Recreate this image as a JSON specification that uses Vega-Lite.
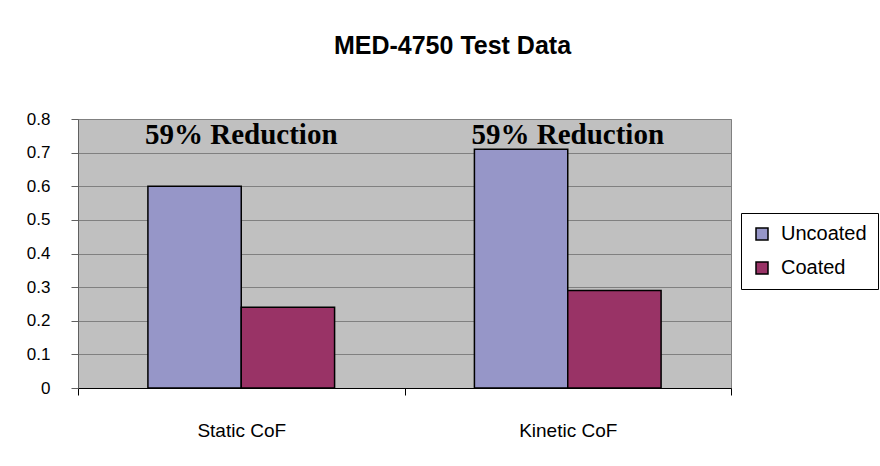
{
  "$schema": "https://vega.github.io/schema/vega-lite/v6.json",
  "autosize": "none",
  "width": 653,
  "height": 269,
  "padding": {"left": 78, "top": 119, "right": 149, "bottom": 78},
  "background": "white",
  "title": {
    "text": "MED-4750 Test Data",
    "font": "Liberation Sans",
    "fontSize": 25,
    "fontWeight": "bold",
    "color": "black",
    "frame": "group",
    "anchor": "middle",
    "dx": 48,
    "offset": 51
  },
  "datasets": {
    "bars": [
      {"cat": "Static CoF", "series": "Uncoated", "value": 0.6},
      {"cat": "Static CoF", "series": "Coated", "value": 0.24},
      {"cat": "Kinetic CoF", "series": "Uncoated", "value": 0.71},
      {"cat": "Kinetic CoF", "series": "Coated", "value": 0.29}
    ],
    "notes": [
      {"cat": "Static CoF", "label": "59% Reduction"},
      {"cat": "Kinetic CoF", "label": "59% Reduction"}
    ]
  },
  "config": {
    "view": {"fill": "#C0C0C0", "stroke": "#808080", "strokeWidth": 1}
  },
  "layer": [
    {
      "data": {"name": "bars"},
      "mark": {"type": "bar", "stroke": "black", "strokeWidth": 1.5},
      "encoding": {
        "x": {
          "field": "cat",
          "type": "nominal",
          "sort": ["Static CoF", "Kinetic CoF"],
          "scale": {"paddingInner": 0, "paddingOuter": 0},
          "axis": {
            "title": null,
            "labelAngle": 0,
            "tickBand": "extent",
            "tickSize": 7,
            "tickColor": "black",
            "domainColor": "black",
            "labelPadding": 26,
            "labelFont": "Liberation Sans",
            "labelFontSize": 19,
            "labelColor": "black",
            "grid": false
          }
        },
        "xOffset": {
          "field": "series",
          "type": "nominal",
          "sort": ["Uncoated", "Coated"],
          "scale": {"paddingInner": 0, "paddingOuter": 0.749}
        },
        "y": {
          "field": "value",
          "type": "quantitative",
          "scale": {"domain": [0, 0.8], "nice": false},
          "axis": {
            "title": null,
            "tickCount": 16,
            "tickMinStep": 0.1,
            "format": "~g",
            "labelOverlap": false,
            "labelFont": "Liberation Sans",
            "labelFontSize": 17,
            "labelColor": "black",
            "tickSize": 7,
            "tickColor": "#606060",
            "domainColor": "#606060",
            "gridColor": "#808080",
            "gridOpacity": 1,
            "labelPadding": 21
          }
        },
        "color": {
          "field": "series",
          "type": "nominal",
          "sort": ["Uncoated", "Coated"],
          "scale": {"domain": ["Uncoated", "Coated"], "range": ["#9696C8", "#993366"]},
          "legend": {
            "title": null,
            "orient": "none",
            "legendX": 663,
            "legendY": 94,
            "padding": 11,
            "rowPadding": 14,
            "strokeColor": "black",
            "fillColor": "white",
            "symbolType": "square",
            "symbolSize": 144,
            "symbolStrokeColor": "black",
            "symbolStrokeWidth": 1.5,
            "symbolOpacity": 1,
            "labelFont": "Liberation Sans",
            "labelFontSize": 20,
            "labelColor": "black",
            "labelOffset": 9
          }
        }
      }
    },
    {
      "data": {"name": "notes"},
      "mark": {
        "type": "text",
        "font": "Liberation Serif",
        "fontSize": 29,
        "fontWeight": "bold",
        "color": "black",
        "baseline": "alphabetic",
        "align": "center"
      },
      "encoding": {
        "x": {"field": "cat", "type": "nominal", "sort": ["Static CoF", "Kinetic CoF"]},
        "y": {"datum": 0.725, "type": "quantitative"},
        "text": {"field": "label"}
      }
    }
  ]
}
